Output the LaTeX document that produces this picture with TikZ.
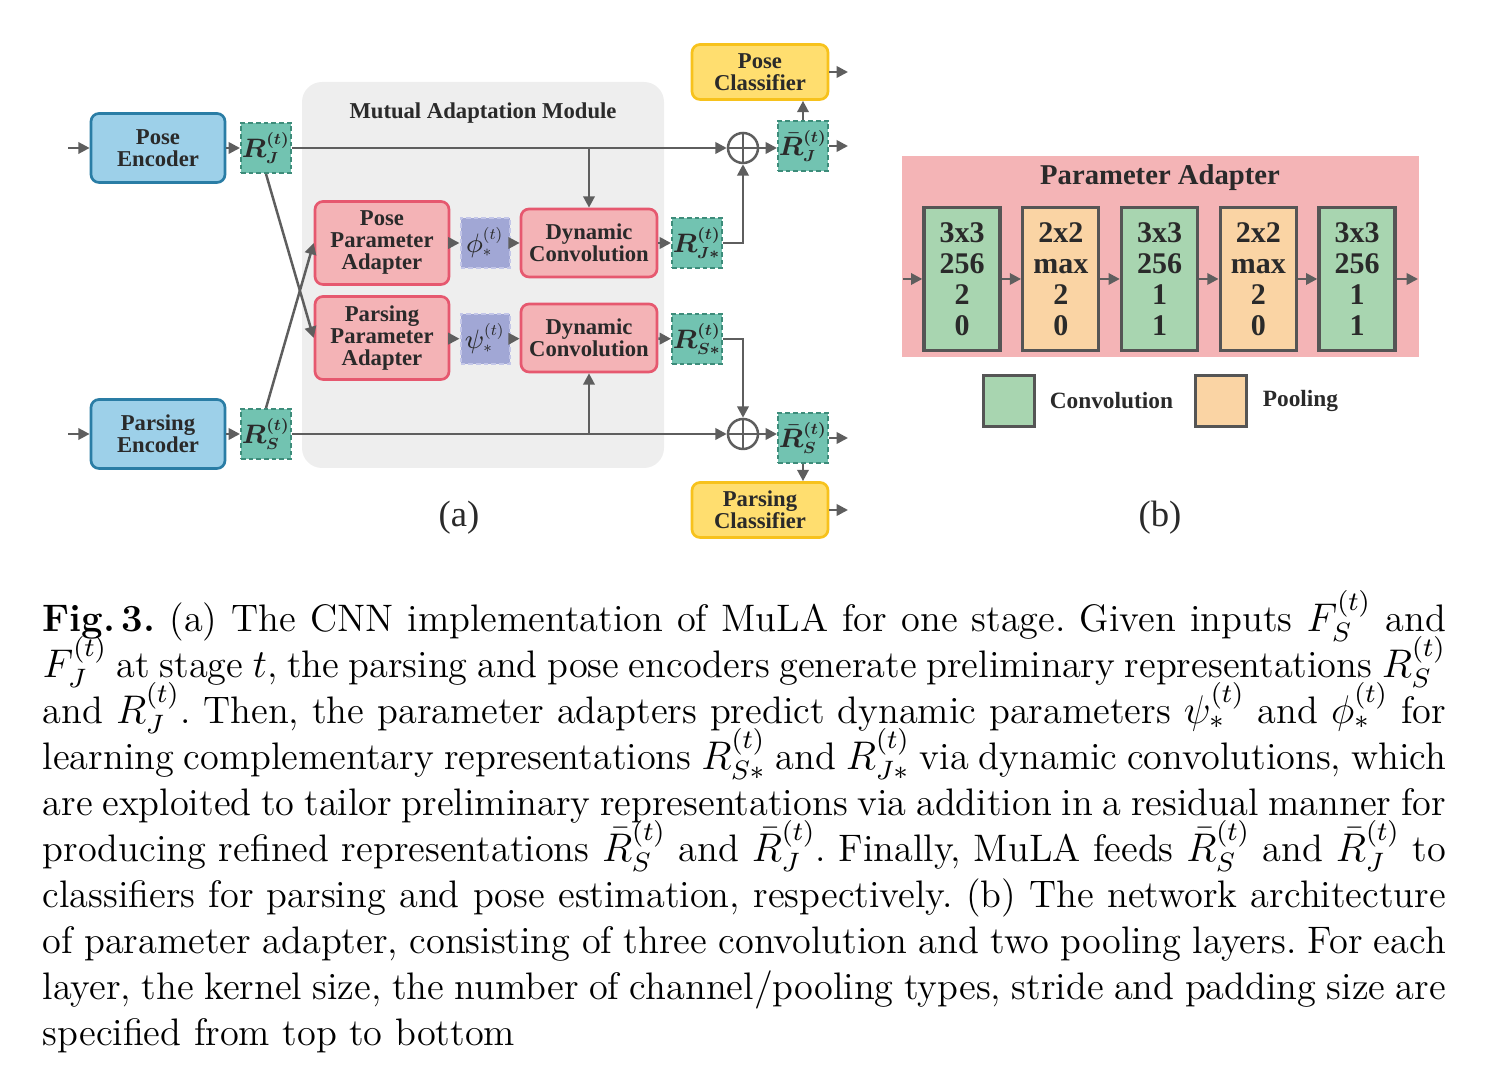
\documentclass[tikz,border=0pt]{standalone}
\usepackage{fontspec}
\usepackage{amsmath,bm}
\usetikzlibrary{arrows.meta,positioning}
\newfontfamily\diagfont{Liberation Serif}

\definecolor{encfill}{HTML}{9DD0E9}
\definecolor{encline}{HTML}{2A7DA5}
\definecolor{repfill}{HTML}{72C3B1}
\definecolor{repline}{HTML}{3D8C7A}
\definecolor{modfill}{HTML}{EEEEEE}
\definecolor{adafill}{HTML}{F4B3B6}
\definecolor{adaline}{HTML}{E6586F}
\definecolor{parfill}{HTML}{A1A7D5}
\definecolor{parline}{HTML}{C3C6E8}
\definecolor{clsfill}{HTML}{FFDE6F}
\definecolor{clsline}{HTML}{F7C21C}
\definecolor{arrowgray}{HTML}{5E5E5E}
\definecolor{convfill}{HTML}{A8D5B0}
\definecolor{poolfill}{HTML}{FAD4A4}
\definecolor{layerline}{HTML}{555555}
\definecolor{pafill}{HTML}{F4B4B6}
\definecolor{textdark}{HTML}{2A2A2A}

\newcommand{\tinymath}[1]{\scalebox{0.6}{$#1$}}
\newcommand{\repsym}[2]{$#1^{\tinymath{\bm{(t)}}}_{\tinymath{\bm{#2}}}$}
\newcommand{\parsym}[1]{$#1^{\tinymath{(t)}}_{\tinymath{*}}$}

\tikzset{
  conn/.style={draw=arrowgray, line width=0.75pt, -{Triangle[length=3.4pt,width=3.4pt]}},
  blockbase/.style={align=center, inner sep=0pt, text=textdark, font=\diagfont\bfseries\fontsize{6.8}{6.6}\selectfont},
  encbox/.style={blockbase, draw=encline, fill=encfill, line width=0.8pt, rounded corners=2.4pt, minimum width=40.2pt, minimum height=20.7pt},
  adabox/.style={blockbase, draw=adaline, fill=adafill, line width=0.8pt, rounded corners=2.4pt, minimum width=40.2pt, minimum height=24.9pt},
  dcbox/.style={adabox, minimum width=40.8pt, minimum height=20.4pt},
  clsbox/.style={blockbase, draw=clsline, fill=clsfill, line width=0.8pt, rounded corners=2.4pt, minimum width=40.8pt, minimum height=16.5pt},
  repbox/.style={draw=repline, fill=repfill, line width=0.6pt, dash pattern=on 1.4pt off 0.9pt, minimum size=15pt, inner sep=0pt, text=textdark, font=\fontsize{7.6}{8}\selectfont},
  parbox/.style={repbox, draw=parline, fill=parfill, minimum width=14.7pt},
  addnode/.style={circle, draw=arrowgray, line width=0.75pt, minimum size=9pt, inner sep=0pt},
  layerbase/.style={draw=layerline, line width=1pt, minimum width=22.8pt, minimum height=42.9pt, align=center, inner sep=0pt, text=textdark, font=\diagfont\bfseries\fontsize{9}{9.3}\selectfont},
  convbox/.style={layerbase, fill=convfill},
  poolbox/.style={layerbase, fill=poolfill},
  legtext/.style={inner sep=0pt, anchor=west, text=textdark, font=\diagfont\bfseries\fontsize{7}{8}\selectfont},
  sublabel/.style={font=\diagfont\fontsize{11}{12}\selectfont, text=textdark},
  captext/.style={inner sep=0pt, text width=421pt, align=justify, font=\fontsize{11.5}{13.8}\selectfont}
}

\begin{document}
\begin{tikzpicture}[x=0.3pt,y=-0.3pt]
\useasboundingbox (0,0) rectangle (1488,1070);
% (a) mutual adaptation module
\fill[modfill, rounded corners=6pt] (302,82) rectangle (664,468);
\node[blockbase] (modtitle) at (483,113) {Mutual Adaptation Module};
% encoders and preliminary representations
\node[encbox] (poseenc) at (158,148) {Pose\\Encoder};
\node[encbox] (parsenc) at (158,434) {Parsing\\Encoder};
\node[repbox] (rj) at (266,148) {\repsym{\bm{R}}{J}};
\node[repbox] (rs) at (266,434) {\repsym{\bm{R}}{S}};
\coordinate (inj) at (68,148);
\coordinate (ins) at (68,434);
% adapters, parameters, dynamic convolutions
\node[adabox] (poseada) at (382,243) {Pose\\Parameter\\Adapter};
\node[adabox] (parsada) at (382,338) {Parsing\\Parameter\\Adapter};
\node[parbox] (phi) at (485,243) {\parsym{\phi}};
\node[parbox] (psi) at (485,339) {\parsym{\psi}};
\node[dcbox] (dcpose) at (589,243) {Dynamic\\Convolution};
\node[dcbox] (dcpars) at (589,338) {Dynamic\\Convolution};
\node[repbox] (rjs) at (697,243) {\repsym{\bm{R}}{J*}};
\node[repbox] (rss) at (697,339) {\repsym{\bm{R}}{S*}};
% residual additions and classifiers
\node[addnode] (addj) at (743,148) {};
\node[addnode] (adds) at (743,434) {};
\draw[arrowgray, line width=0.75pt] (addj.north) -- (addj.south) (addj.west) -- (addj.east);
\draw[arrowgray, line width=0.75pt] (adds.north) -- (adds.south) (adds.west) -- (adds.east);
\node[repbox] (rjbar) at (803,146) {\repsym{\bar{\bm{R}}}{J}};
\node[repbox] (rsbar) at (803,438) {\repsym{\bar{\bm{R}}}{S}};
\node[clsbox] (posecls) at (760,72) {Pose\\Classifier};
\node[clsbox] (parscls) at (760,510) {Parsing\\Classifier};
\coordinate (outposecls) at (848,72);
\coordinate (outrjbar) at (848,146);
\coordinate (outrsbar) at (848,438);
\coordinate (outparscls) at (848,510);
% connectors
\draw[conn] (inj) -- (poseenc);
\draw[conn] (ins) -- (parsenc);
\draw[conn] (poseenc) -- (rj);
\draw[conn] (parsenc) -- (rs);
\draw[conn] (rj) -- (addj);
\draw[conn] (rs) -- (adds);
\draw[conn] (dcpose |- rj) -- (dcpose);
\draw[conn] (dcpars |- rs) -- (dcpars);
\draw[conn] (rj.south) -- (parsada.west);
\draw[conn] (rs.north) -- (poseada.west);
\draw[conn] (poseada) -- (phi);
\draw[conn] (parsada) -- (psi);
\draw[conn] (phi) -- (dcpose);
\draw[conn] (psi) -- (dcpars);
\draw[conn] (dcpose) -- (rjs);
\draw[conn] (dcpars) -- (rss);
\draw[conn] (rjs.east) -| (addj.south);
\draw[conn] (rss.east) -| (adds.north);
\draw[conn] (addj) -- (addj -| rjbar.west);
\draw[conn] (adds) -- (adds -| rsbar.west);
\draw[conn] (rjbar.north) -- (rjbar.north |- posecls.south);
\draw[conn] (rsbar.south) -- (rsbar.south |- parscls.north);
\draw[conn] (rjbar) -- (outrjbar);
\draw[conn] (rsbar) -- (outrsbar);
\draw[conn] (posecls) -- (outposecls);
\draw[conn] (parscls) -- (outparscls);
\node[sublabel] (suba) at (459,518) {(a)};
% (b) parameter adapter
\fill[pafill] (902,156) rectangle (1419,357);
\node[blockbase, font=\diagfont\bfseries\fontsize{8.6}{9}\selectfont] (patitle) at (1160,178) {Parameter Adapter};
\foreach \i/\k/\c/\s/\p/\sty in {1/3x3/256/2/0/convbox, 2/2x2/max/2/0/poolbox, 3/3x3/256/1/1/convbox, 4/2x2/max/2/0/poolbox, 5/3x3/256/1/1/convbox}
  \node[\sty] (L\i) at ({962+98.75*(\i-1)},279) {\k\\\c\\\s\\\p};
\coordinate (pain) at (903,279);
\coordinate (paout) at (1418,279);
\draw[conn] (pain) -- (L1);
\foreach \i/\j in {1/2,2/3,3/4,4/5}
  \draw[conn] (L\i) -- (L\j);
\draw[conn] (L5) -- (paout);
% legend
\node[convbox, minimum width=15.3pt, minimum height=15.3pt] (legconv) at (1009,401) {};
\node[legtext, right=3.9pt of legconv] (legconvtext) {Convolution};
\node[poolbox, minimum width=15.3pt, minimum height=15.3pt] (legpool) at (1221,401) {};
\node[legtext, right=4.2pt of legpool] (legpooltext) {Pooling};
\node[sublabel] (subb) at (1160,518) {(b)};
% caption
\node[captext, anchor=north west] (caption) at (42,590) {\frenchspacing\lineskiplimit=-5pt\lineskip=0pt\relax
\textbf{Fig.\,3.} (a) The CNN implementation of MuLA for one stage. Given inputs $F_S^{(t)}$ and\linebreak
$F_J^{(t)}$ at stage $t$, the parsing and pose encoders generate preliminary representations $R_S^{(t)}$\linebreak
and $R_J^{(t)}$. Then, the parameter adapters predict dynamic parameters $\psi_*^{(t)}$ and $\phi_*^{(t)}$ for\linebreak
learning complementary representations $R_{S*}^{(t)}$ and $R_{J*}^{(t)}$ via dynamic convolutions, which\linebreak
are exploited to tailor preliminary representations via addition in a residual manner for\linebreak
producing refined representations $\bar{R}_S^{(t)}$ and $\bar{R}_J^{(t)}$. Finally, MuLA feeds $\bar{R}_S^{(t)}$ and $\bar{R}_J^{(t)}$ to\linebreak
classifiers for parsing and pose estimation, respectively. (b) The network architecture\linebreak
of parameter adapter, consisting of three convolution and two pooling layers. For each\linebreak
layer, the kernel size, the number of channel/pooling types, stride and padding size are\linebreak
specified from top to bottom\par};
\end{tikzpicture}
\end{document}
